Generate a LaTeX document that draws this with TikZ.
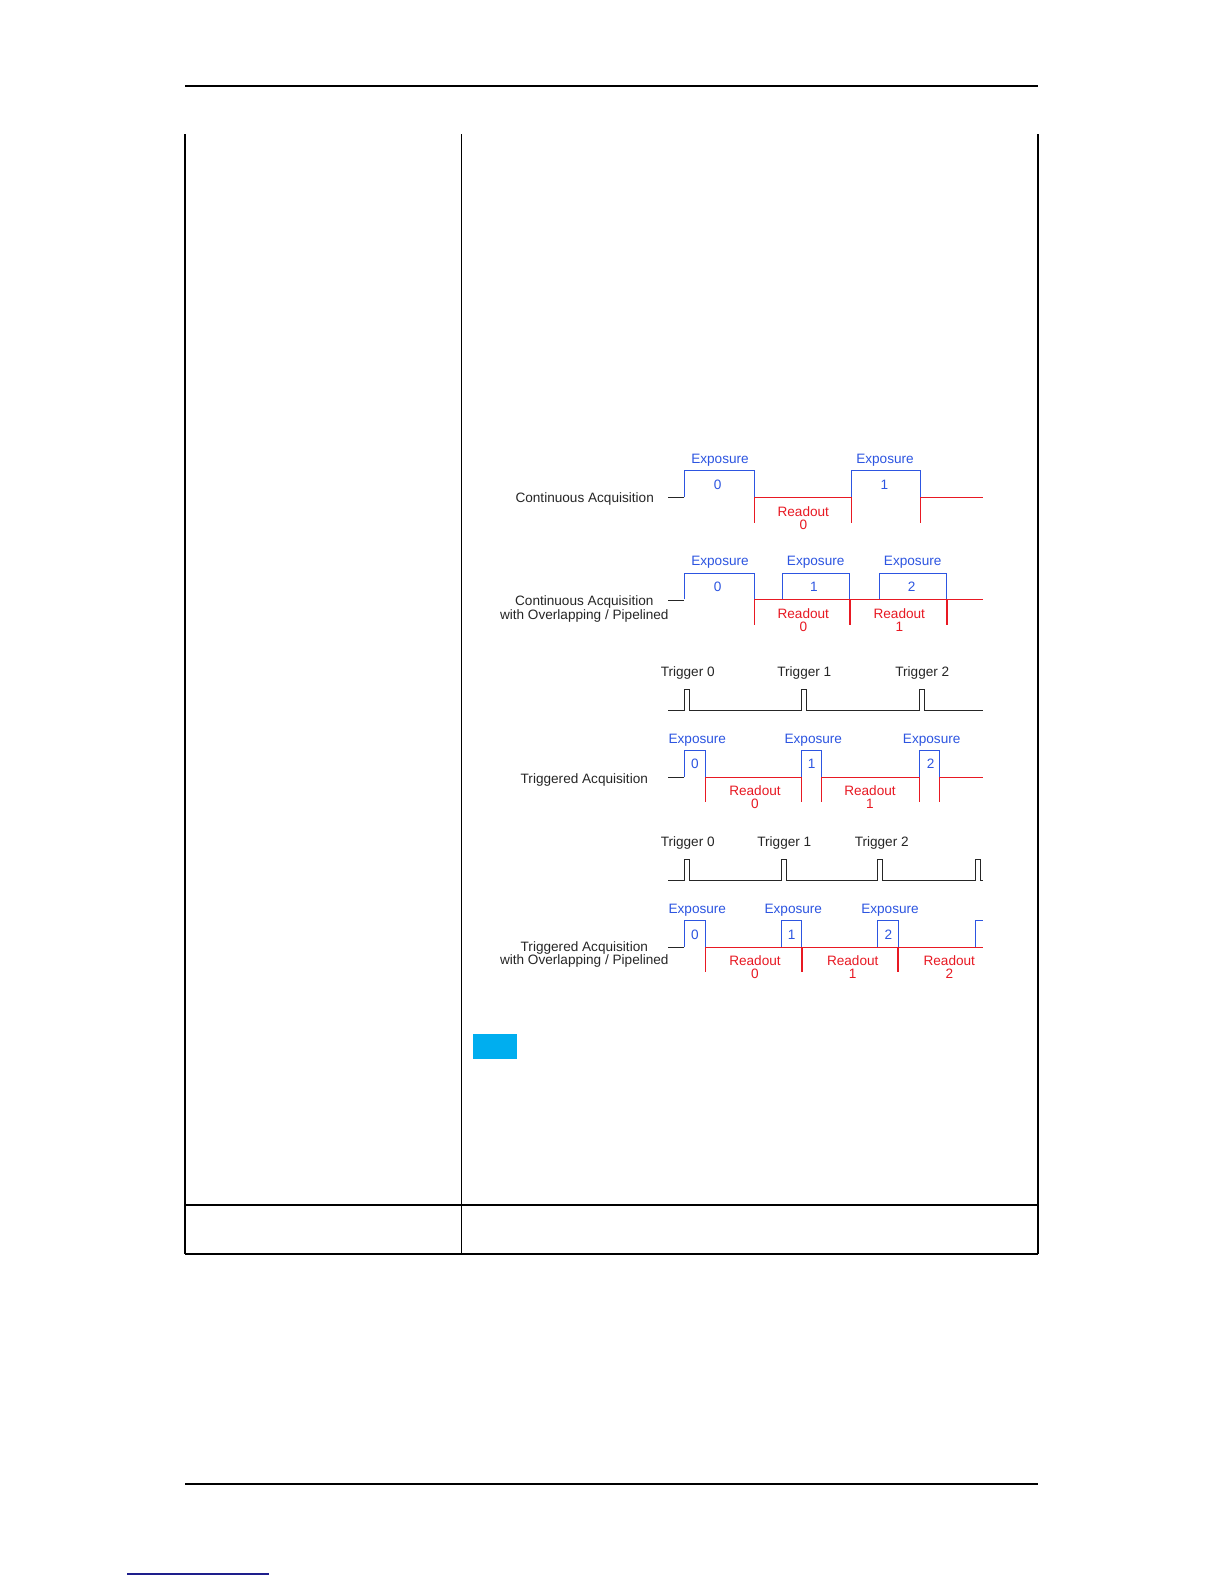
\documentclass[tikz,border=0pt]{standalone}
\usepackage{fontspec}
\setmainfont{Liberation Sans}
\definecolor{expblue}{RGB}{45,85,225}
\definecolor{rdred}{RGB}{232,25,35}
\definecolor{boxcyan}{RGB}{0,174,239}
\definecolor{linknavy}{RGB}{30,30,140}
\tikzset{
  txt/.style={inner sep=0pt, yshift=-0.75pt, font=\fontsize{6.8}{6.6}\selectfont, text=black!85, align=center},
  btxt/.style={txt, text=expblue},
  rtxt/.style={txt, text=rdred},
  bsig/.style={draw=expblue, line width=0.5pt},
  rsig/.style={draw=rdred, line width=0.5pt},
  rthick/.style={draw=rdred, line width=1.1pt},
  ksig/.style={draw=black!85, line width=0.5pt},
  rulefat/.style={line width=0.8pt},
}
\begin{document}
\begin{tikzpicture}[x=0.5pt,y=-0.5pt]
\useasboundingbox (0,0) rectangle (1224,1584);
\fill[white] (0,0) rectangle (1224,1584);

% page rules and table
\draw[rulefat] (185,86) -- (1038,86);
\draw[rulefat] (185,134.5) -- (185,1254);
\draw[rulefat] (461.5,134.5) -- (461.5,1254);
\draw[rulefat] (1038,134.5) -- (1038,1254);
\draw[rulefat] (185,1205) -- (1038,1205);
\draw[rulefat] (185,1254) -- (1038,1254);
\draw[rulefat] (185,1484) -- (1038,1484);
\draw[linknavy, line width=0.6pt] (127,1574) -- (269,1574);
\fill[boxcyan] (472.6,1034) rectangle (517.1,1058.5);

% ---------- Row 1: Continuous Acquisition ----------
\node[txt] (l1) at (584.7,497.7) {Continuous Acquisition};
\draw[ksig] (668.3,497.3) -- (684.3,497.3);
\draw[bsig] (684.3,497.3) -- (684.3,470.7) -- (754,470.7) -- (754,497.3);
\draw[bsig] (851,497.3) -- (851,470.7) -- (920,470.7) -- (920,497.3);
\draw[rsig] (754,497.3) -- (851,497.3);
\draw[rsig] (920,497.3) -- (983.3,497.3);
\draw[rsig] (754,497.3) -- (754,523.3);
\draw[rsig] (851,497.3) -- (851,523.3);
\draw[rsig] (920,497.3) -- (920,523.3);
\node[btxt] (e1a) at (720,458.3) {Exposure};
\node[btxt] (e1b) at (885,458.3) {Exposure};
\node[btxt] (n1a) at (717.7,483.3) {0};
\node[btxt] (n1b) at (884.3,483.3) {1};
\node[rtxt] (r1a) at (803.3,510) {Readout};
\node[rtxt] (r1an) at (803.3,523.3) {0};

% ---------- Row 2: Continuous overlapping ----------
\node[txt] (l2) at (584.3,607.5) {Continuous Acquisition\\with Overlapping / Pipelined};
\draw[ksig] (668.3,600) -- (684.3,600);
\draw[bsig] (684.3,599.3) -- (684.3,573.3) -- (754,573.3) -- (754,599.3);
\draw[bsig] (782,599.3) -- (782,573.3) -- (849.7,573.3) -- (849.7,599.3);
\draw[bsig] (879,599.3) -- (879,573.3) -- (946.7,573.3) -- (946.7,599.3);
\draw[rsig] (754,599.3) -- (983.3,599.3);
\draw[rsig] (754,599.3) -- (754,625);
\draw[rthick] (849.7,599.3) -- (849.7,625);
\draw[rthick] (946.7,599.3) -- (946.7,625);
\node[btxt] (e2a) at (720,561) {Exposure};
\node[btxt] (e2b) at (815.7,561) {Exposure};
\node[btxt] (e2c) at (912.7,561) {Exposure};
\node[btxt] (n2a) at (717.7,585.7) {0};
\node[btxt] (n2b) at (814,585.7) {1};
\node[btxt] (n2c) at (911.7,585.7) {2};
\node[rtxt] (r2a) at (803.3,611.7) {Readout};
\node[rtxt] (r2an) at (803.3,625) {0};
\node[rtxt] (r2b) at (899.3,611.7) {Readout};
\node[rtxt] (r2bn) at (899.3,625) {1};

% ---------- Row 3: Triggers ----------
\node[txt] (t3a) at (687.7,671.7) {Trigger 0};
\node[txt] (t3b) at (804.3,671.7) {Trigger 1};
\node[txt] (t3c) at (922.3,671.7) {Trigger 2};
\draw[ksig] (668.3,710.7) -- (684.3,710.7) -- (684.3,689.3) -- (689.3,689.3) -- (689.3,710.7)
  -- (801.7,710.7) -- (801.7,689.3) -- (806.7,689.3) -- (806.7,710.7)
  -- (919,710.7) -- (919,689.3) -- (924,689.3) -- (924,710.7) -- (983.3,710.7);

% ---------- Row 4: Triggered Acquisition ----------
\node[txt] (l4) at (584.3,778.3) {Triggered Acquisition};
\draw[ksig] (668.3,777.5) -- (684.3,777.5);
\draw[bsig] (684.3,777) -- (684.3,750.7) -- (705,750.7) -- (705,777);
\draw[bsig] (801.7,777) -- (801.7,750.7) -- (821.7,750.7) -- (821.7,777);
\draw[bsig] (919,777) -- (919,750.7) -- (939.3,750.7) -- (939.3,777);
\draw[rsig] (705,777) -- (801.7,777);
\draw[rsig] (821.7,777) -- (919,777);
\draw[rsig] (939.3,777) -- (983.3,777);
\foreach \xx in {705,801.7,821.7,919,939.3} \draw[rsig] (\xx,777) -- (\xx,802.3);
\node[btxt] (e4a) at (697.3,738.3) {Exposure};
\node[btxt] (e4b) at (813.3,738.3) {Exposure};
\node[btxt] (e4c) at (931.7,738.3) {Exposure};
\node[btxt] (n4a) at (695,762.7) {0};
\node[btxt] (n4b) at (811.7,762.7) {1};
\node[btxt] (n4c) at (930.7,762.7) {2};
\node[rtxt] (r4a) at (755,789) {Readout};
\node[rtxt] (r4an) at (755,802.3) {0};
\node[rtxt] (r4b) at (870,789) {Readout};
\node[rtxt] (r4bn) at (870,802.3) {1};

% ---------- Row 5: Triggers ----------
\node[txt] (t5a) at (687.7,841.7) {Trigger 0};
\node[txt] (t5b) at (784.3,841.7) {Trigger 1};
\node[txt] (t5c) at (881.7,841.7) {Trigger 2};
\draw[ksig] (668.3,880.7) -- (684.3,880.7) -- (684.3,859.3) -- (689.3,859.3) -- (689.3,880.7)
  -- (781,880.7) -- (781,859.3) -- (786,859.3) -- (786,880.7)
  -- (877.7,880.7) -- (877.7,859.3) -- (882.7,859.3) -- (882.7,880.7)
  -- (975,880.7) -- (975,859.3) -- (980,859.3) -- (980,880.7) -- (983.3,880.7);

% ---------- Row 6: Triggered overlapping ----------
\node[txt] (l6) at (584.3,953.3) {Triggered Acquisition\\with Overlapping / Pipelined};
\draw[ksig] (668.3,947.7) -- (684.3,947.7);
\draw[bsig] (684.3,947) -- (684.3,920.7) -- (705,920.7) -- (705,947);
\draw[bsig] (781,947) -- (781,920.7) -- (801.7,920.7) -- (801.7,947);
\draw[bsig] (877.7,947) -- (877.7,920.7) -- (898.3,920.7) -- (898.3,947);
\draw[bsig] (975,947) -- (975,920.7) -- (983.3,920.7);
\draw[rsig] (705,947) -- (983.3,947);
\draw[rsig] (705,947) -- (705,972.3);
\draw[rthick] (801.7,947) -- (801.7,972.3);
\draw[rthick] (898.3,947) -- (898.3,972.3);
\node[btxt] (e6a) at (697.3,908.3) {Exposure};
\node[btxt] (e6b) at (793.3,908.3) {Exposure};
\node[btxt] (e6c) at (890,908.3) {Exposure};
\node[btxt] (n6a) at (695,933.3) {0};
\node[btxt] (n6b) at (791.7,933.3) {1};
\node[btxt] (n6c) at (888.3,933.3) {2};
\node[rtxt] (r6a) at (755,959) {Readout};
\node[rtxt] (r6an) at (755,972.3) {0};
\node[rtxt] (r6b) at (852.7,959) {Readout};
\node[rtxt] (r6bn) at (852.7,972.3) {1};
\node[rtxt] (r6c) at (949.3,959) {Readout};
\node[rtxt] (r6cn) at (949.3,972.3) {2};
\end{tikzpicture}
\end{document}
